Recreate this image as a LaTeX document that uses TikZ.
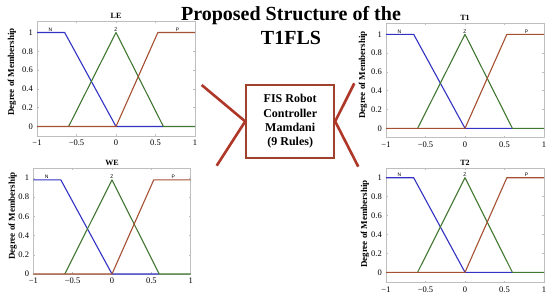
\documentclass[tikz,border=0pt]{standalone}
\usepackage{fontspec}
\setmainfont{Liberation Serif}
\newfontfamily\mfsans{Liberation Sans}
\definecolor{mfblue}{RGB}{50,50,195}
\definecolor{mfgreen}{RGB}{65,120,50}
\definecolor{mfbrown}{RGB}{165,80,50}
\definecolor{framegray}{RGB}{190,190,190}
\definecolor{boxred}{RGB}{160,65,45}
\definecolor{linered}{RGB}{175,55,40}
\tikzset{
  frm/.style={draw=framegray, line width=0.5pt},
  nmf/.style={draw=mfblue, line width=1.1pt, line join=round},
  zmf/.style={draw=mfgreen, line width=1.1pt, line join=round},
  pmf/.style={draw=mfbrown, line width=1.1pt, line join=round},
  ytl/.style={anchor=east, inner sep=0pt, xshift=-4pt, font=\fontsize{8.5}{9}\selectfont},
  xtl/.style={anchor=north, inner sep=0pt, yshift=-4pt, font=\fontsize{8.5}{9}\selectfont},
  mfl/.style={anchor=south, inner sep=0pt, yshift=1pt, font=\mfsans\fontsize{5}{5}\selectfont},
  ttl/.style={anchor=base, inner sep=0pt, yshift=2.5pt, font=\bfseries\fontsize{8}{9}\selectfont},
  ylab/.style={rotate=90, inner sep=0pt, font=\bfseries\fontsize{9}{10}\selectfont},
  fisbox/.style={draw=boxred, line width=2pt, minimum width=88pt, minimum height=72.7pt,
    align=center, font=\bfseries\fontsize{12}{14.3}\selectfont},
  redline/.style={draw=linered, line width=2.6pt},
}
% #1 prefix, #2 title, #3 ymin, #4 ymax, #5 peak
\newcommand\mfplot[5]{%
  \draw[frm] (-1,#3) rectangle (1,#4);
  \foreach \t in {-0.5,0,0.5} {\draw[frm] (\t,#3) -- ++(0pt,2pt); \draw[frm] (\t,#4) -- ++(0pt,-2pt);}
  \foreach \v in {0,0.2,0.4,0.6,0.8,1} {\draw[frm] (-1,\v) -- ++(2pt,0pt); \draw[frm] (1,\v) -- ++(-2pt,0pt);}
  \foreach \v/\l [count=\i] in {0/0,0.2/0.2,0.4/0.4,0.6/0.6,0.8/0.8,1/1}
    {\node[ytl] (#1-y\i) at (-1,\v) {\l};}
  \foreach \v/\l [count=\i] in {-1/−1,-0.5/−0.5,0/0,0.5/0.5,1/1}
    {\node[xtl] (#1-x\i) at (\v,#3) {\l};}
  \draw[nmf] (-1,#5) -- (-0.65,#5) -- (0,0) -- (0.6,0);
  \draw[zmf] (-0.6,0) -- (0,#5) -- (0.6,0) -- (1,0);
  \draw[pmf] (-1,0) -- (0,0) -- (0.53,#5) -- (1,#5);
  \node[mfl] (#1-n) at (-0.83,#5) {N};
  \node[mfl] (#1-z) at (0,#5) {Z};
  \node[mfl] (#1-p) at (0.78,#5) {P};
  \node[ttl] (#1-t) at (0,#4) {#2};
}
\begin{document}
\begin{tikzpicture}[x=1pt, y=-1pt]
\useasboundingbox (0,0) rectangle (550,300);
\fill[white] (0,0) rectangle (550,300);

% LE
\begin{scope}[shift={(116,126.5)}, x=79pt, y=94pt]
  \mfplot{le}{LE}{-0.1}{1.12}{1}
\end{scope}
\node[ylab] (le-ylab) at (12,72) {Degree of Membership};

% T1
\begin{scope}[shift={(465,128.3)}, x=79pt, y=94pt]
  \mfplot{ta}{T1}{-0.1}{1.12}{1}
\end{scope}
\node[ylab] (ta-ylab) at (363,75) {Degree of Membership};

% WE
\begin{scope}[shift={(112,274)}, x=78.7pt, y=96pt]
  \mfplot{we}{WE}{0}{1.1}{0.98}
\end{scope}
\node[ylab] (we-ylab) at (12.7,216) {Degree of Membership};

% T2
\begin{scope}[shift={(465,272.3)}, x=79pt, y=94.6pt]
  \mfplot{tb}{T2}{-0.11}{1.1}{1}
\end{scope}
\node[ylab] (tb-ylab) at (365,224) {Degree of Membership};

% Title
\node[align=center, inner sep=0pt, font=\bfseries\fontsize{20}{24}\selectfont] (title) at (291,26)
  {Proposed Structure of the\\T1FLS};

% Center box
\node[fisbox] (box) at (290.2,121.4) {FIS Robot\\Controller\\Mamdani\\(9 Rules)};
\coordinate (lu) at (201.7,85);
\coordinate (ld) at (216.7,165.7);
\coordinate (ru) at (354.3,83.3);
\coordinate (rd) at (358.3,166.7);
\draw[redline] (lu) -- (box.west) -- (ld);
\draw[redline] (ru) -- (box.east) -- (rd);
\end{tikzpicture}
\end{document}
